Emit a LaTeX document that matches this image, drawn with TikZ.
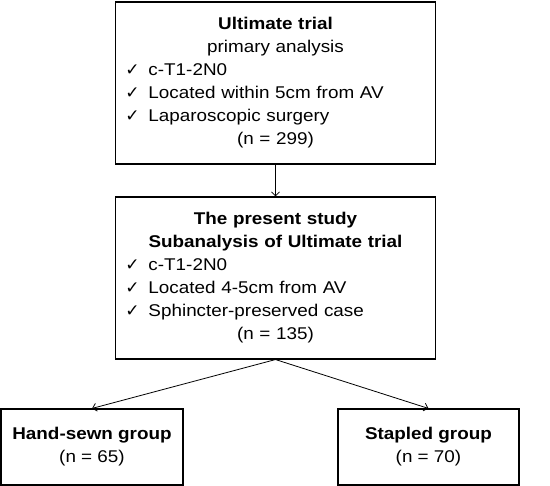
\documentclass[tikz,border=0pt]{standalone}
\usepackage{fontspec}
\setmainfont{Liberation Sans}[FakeStretch=1.11]
\newfontfamily\dejavu{DejaVu Sans}
\usetikzlibrary{arrows.meta}
\newcommand{\chk}[1]{\makebox[300pt][l]{\makebox[23pt][l]{\dejavu\fontsize{17}{23}\selectfont ✓}#1}}
\tikzset{
  box/.style={draw, line width=1.1pt, inner xsep=9pt, font=\fontsize{17}{23}\selectfont},
  bigbox/.style={box, text width=302pt, minimum height=162pt, align=center},
  grpbox/.style={box, minimum height=76pt, align=center},
  arr/.style={line width=0.8pt, -{Straight Barb[length=4pt,width=8pt]}}
}
\begin{document}
\begin{tikzpicture}[x=1pt, y=1pt]
			%%%%% START %%%%%
			\useasboundingbox (0, 0) rectangle (550, -486);
			
			\node[bigbox] (ultimate) at (275.5, -83) {\textbf{Ultimate trial}\\
				primary analysis\\
				\chk{c-T1-2N0}\\
				\chk{Located within 5cm from AV}\\
				\chk{Laparoscopic surgery}\\
				(n = 299)};
			
			\node[bigbox] (present) at (275.5, -278) {\textbf{The present study}\\
				\textbf{Subanalysis of Ultimate trial}\\
				\chk{c-T1-2N0}\\
				\chk{Located 4-5cm from AV}\\
				\chk{Sphincter-preserved case}\\
				(n = 135)};
			
			\node[grpbox, minimum width=182pt] (handsewn) at (92, -447) {\textbf{Hand-sewn group}\\(n = 65)};
			\node[grpbox, minimum width=181pt] (stapled) at (428.5, -447) {\textbf{Stapled group}\\(n = 70)};
			
			\draw[arr] (ultimate.south) -- (present.north);
			\draw[arr] (present.south) -- (handsewn.north);
			\draw[arr] (present.south) -- (stapled.north);
			%%%%% END %%%%%
\end{tikzpicture}
\end{document}
